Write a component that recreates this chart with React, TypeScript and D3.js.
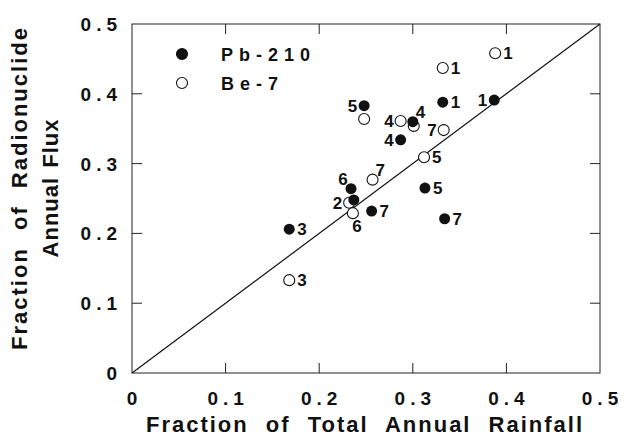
import React, { useEffect, useRef } from "react";
import * as d3 from "d3";

// axis ticks (both axes run 0 .. 0.5)
const tickValues = [0, 0.1, 0.2, 0.3, 0.4, 0.5];
const tickLabels = ["0", "0.1", "0.2", "0.3", "0.4", "0.5"];

// Pb-210 (filled circles)
const pbRain = [0.387, 0.332, 0.248, 0.3, 0.287, 0.234, 0.237, 0.256, 0.313, 0.334, 0.168];
const pbFlux = [0.391, 0.388, 0.383, 0.36, 0.334, 0.264, 0.248, 0.232, 0.265, 0.221, 0.206];
const pbSite = ["1", "1", "5", "4", "4", "6", "", "7", "5", "7", "3"];
const pbSide = ["l", "r", "l", "ur", "l", "ul", "", "r", "r", "r", "r"];

// Be-7 (open circles)
const beRain = [0.388, 0.332, 0.248, 0.287, 0.301, 0.333, 0.312, 0.257, 0.232, 0.236, 0.168];
const beFlux = [0.458, 0.437, 0.364, 0.361, 0.354, 0.348, 0.309, 0.277, 0.244, 0.229, 0.133];
const beSite = ["1", "1", "", "4", "", "7", "5", "7", "2", "6", "3"];
const beSide = ["r", "r", "", "l", "", "l", "r", "ur", "l", "b", "r"];

const legendNames = ["Pb-210", "Be-7"];

const W = 624;
const H = 439;
const FONT = "'Liberation Sans', Arial, sans-serif";

const Chart = () => {
  const svgRef = useRef(null);

  useEffect(() => {
    const left = 132;
    const right = 600;
    const top = 24;
    const bottom = 373;
    const tickLen = 10;

    const x = d3.scaleLinear().domain([0, 0.5]).range([left, right]);
    const y = d3.scaleLinear().domain([0, 0.5]).range([bottom, top]);

    const svg = d3.select(svgRef.current);
    svg.selectAll("*").remove();
    svg.attr("width", W).attr("height", H).attr("viewBox", [0, 0, W, H]).style("background", "white");

    // frame
    svg
      .append("rect")
      .attr("x", left)
      .attr("y", top)
      .attr("width", right - left)
      .attr("height", bottom - top)
      .attr("fill", "none")
      .attr("stroke", "#222")
      .attr("stroke-width", 1);

    // inward ticks on all four sides (skip the ends)
    const inner = tickValues.slice(1, -1);
    const tickG = svg.append("g").attr("stroke", "#222").attr("stroke-width", 1);
    inner.forEach((t) => {
      tickG.append("line").attr("x1", x(t)).attr("x2", x(t)).attr("y1", bottom).attr("y2", bottom - tickLen);
      tickG.append("line").attr("x1", x(t)).attr("x2", x(t)).attr("y1", top).attr("y2", top + tickLen);
      tickG.append("line").attr("y1", y(t)).attr("y2", y(t)).attr("x1", left).attr("x2", left + tickLen);
      tickG.append("line").attr("y1", y(t)).attr("y2", y(t)).attr("x1", right).attr("x2", right - tickLen);
    });

    // tick labels
    const lab = svg
      .append("g")
      .style("font-family", FONT)
      .style("font-weight", "bold")
      .style("font-size", "19px")
      .style("letter-spacing", "5px")
      .attr("fill", "#111");
    tickValues.forEach((t, i) => {
      lab
        .append("text")
        .attr("x", x(t) + 2.5)
        .attr("y", 405)
        .attr("text-anchor", "middle")
        .text(tickLabels[i]);
      lab
        .append("text")
        .attr("x", 122)
        .attr("y", y(t) + 7)
        .attr("text-anchor", "end")
        .text(tickLabels[i]);
    });

    // axis titles
    const titleStyle = (sel) =>
      sel
        .style("font-family", FONT)
        .style("font-weight", "bold")
        .style("font-size", "22px")
        .style("letter-spacing", "2px")
        .style("word-spacing", "9px")
        .attr("fill", "#111");

    svg
      .append("text")
      .attr("x", 365)
      .attr("y", 432)
      .attr("text-anchor", "middle")
      .call(titleStyle)
      .text("Fraction of Total Annual Rainfall");

    const yt = svg
      .append("g")
      .attr("transform", "translate(0,188) rotate(-90)")
      .attr("text-anchor", "middle")
      .call(titleStyle);
    yt.append("text").attr("x", 0).attr("y", 27).text("Fraction of Radionuclide");
    yt.append("text")
      .attr("x", 0)
      .attr("y", 58)
      .style("letter-spacing", "1px")
      .style("word-spacing", "2px")
      .text("Annual Flux");

    // 1:1 line
    svg
      .append("line")
      .attr("x1", x(0))
      .attr("y1", y(0))
      .attr("x2", x(0.5))
      .attr("y2", y(0.5))
      .attr("stroke", "#111")
      .attr("stroke-width", 1.2);

    const r = 5.5;
    const placeLabel = (g, px, py, side, txt) => {
      if (!txt) return;
      let tx = px;
      let ty = py + 6;
      let anchor = "middle";
      if (side === "r") {
        tx = px + 8;
        anchor = "start";
      } else if (side === "l") {
        tx = px - 7;
        anchor = "end";
      } else if (side === "ur") {
        tx = px + 3;
        ty = py - 4;
        anchor = "start";
      } else if (side === "ul") {
        tx = px - 8;
        ty = py - 4;
      } else if (side === "b") {
        tx = px + 4;
        ty = py + 19;
      }
      g.append("text").attr("x", tx).attr("y", ty).attr("text-anchor", anchor).text(txt);
    };

    const pts = svg.append("g");
    const labels = svg
      .append("g")
      .style("font-family", FONT)
      .style("font-weight", "bold")
      .style("font-size", "17px")
      .attr("fill", "#111");

    beRain.forEach((v, i) => {
      pts
        .append("circle")
        .attr("cx", x(v))
        .attr("cy", y(beFlux[i]))
        .attr("r", r)
        .attr("fill", "white")
        .attr("stroke", "#111")
        .attr("stroke-width", 1.1);
      placeLabel(labels, x(v), y(beFlux[i]), beSide[i], beSite[i]);
    });
    pbRain.forEach((v, i) => {
      pts.append("circle").attr("cx", x(v)).attr("cy", y(pbFlux[i])).attr("r", r).attr("fill", "#111");
      placeLabel(labels, x(v), y(pbFlux[i]), pbSide[i], pbSite[i]);
    });

    // legend
    const lg = svg.append("g");
    legendNames.forEach((name, i) => {
      const ly = 54 + i * 29;
      lg.append("circle")
        .attr("cx", 182)
        .attr("cy", ly)
        .attr("r", r)
        .attr("fill", i === 0 ? "#111" : "white")
        .attr("stroke", "#111")
        .attr("stroke-width", 1.1);
      lg.append("text")
        .attr("x", 221)
        .attr("y", ly + 7)
        .style("font-family", FONT)
        .style("font-weight", "bold")
        .style("font-size", "18px")
        .style("letter-spacing", "6px")
        .attr("fill", "#111")
        .text(name);
    });
  }, []);

  return <svg ref={svgRef} />;
};

export default function App() {
  return (
    <div style={{ position: "absolute", left: 0, top: 0, width: W, height: H }}>
      <Chart />
    </div>
  );
}
